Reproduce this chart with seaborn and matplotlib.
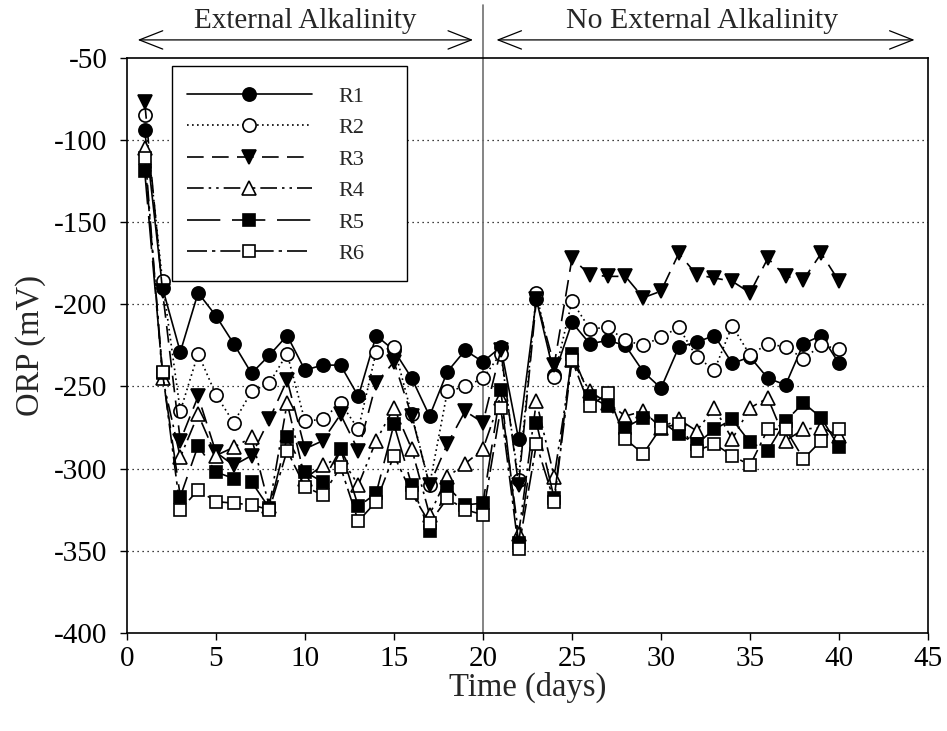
import matplotlib
matplotlib.use("Agg")
import matplotlib.pyplot as plt
from matplotlib.patches import Rectangle
import seaborn as sns
import numpy as np
import pandas as pd

days = list(range(1, 41))
R1 = [-94, -190, -229, -193, -207, -224, -242, -231, -219, -240,
      -237, -237, -256, -219, -228, -245, -268, -241, -228, -235,
      -226, -282, -197, -243, -211, -224, -222, -225, -241, -251,
      -226, -223, -219, -236, -232, -245, -249, -224, -219, -236]
R2 = [-85, -186, -265, -230, -255, -272, -253, -248, -230, -271,
      -270, -260, -276, -229, -226, -267, -310, -253, -250, -245,
      -230, -307, -193, -244, -198, -215, -214, -222, -225, -220,
      -214, -232, -240, -213, -231, -224, -226, -233, -225, -227]
R3 = [-77, -192, -283, -256, -290, -298, -292, -270, -246, -288,
      -283, -267, -289, -248, -235, -268, -310, -285, -265, -272,
      -228, -310, -197, -237, -172, -182, -183, -183, -196, -192,
      -169, -182, -184, -186, -193, -172, -183, -185, -169, -186]
R4 = [-105, -245, -293, -267, -292, -287, -281, -323, -260, -306,
      -298, -293, -310, -283, -263, -288, -328, -305, -297, -288,
      -257, -340, -259, -305, -234, -253, -260, -268, -265, -275,
      -270, -277, -263, -282, -263, -257, -283, -276, -275, -280]
R5 = [-119, -242, -317, -286, -302, -306, -308, -324, -281, -302,
      -308, -288, -323, -315, -273, -310, -338, -311, -322, -321,
      -252, -345, -272, -318, -230, -256, -262, -275, -269, -271,
      -279, -285, -276, -270, -284, -289, -271, -260, -269, -287]
R6 = [-111, -241, -325, -313, -320, -321, -322, -325, -289, -311,
      -316, -299, -332, -320, -292, -315, -333, -318, -325, -328,
      -263, -349, -285, -320, -234, -262, -254, -282, -291, -275,
      -273, -289, -285, -292, -298, -276, -276, -294, -283, -276]

series_names = ["R1", "R2", "R3", "R4", "R5", "R6"]
series_vals = [R1, R2, R3, R4, R5, R6]
x_ticks = [0, 5, 10, 15, 20, 25, 30, 35, 40, 45]
y_ticks = [-400, -350, -300, -250, -200, -150, -100, -50]
phase_labels = ["External Alkalinity", "No External Alkalinity"]

sns.set_theme(style="white")
plt.rcParams["font.family"] = ["Liberation Serif", "DejaVu Serif"]
plt.rcParams["axes.unicode_minus"] = False

styles = {
    "R1": dict(marker="o", mfc="black", ls="-", ms=9.5),
    "R2": dict(marker="o", mfc="white", ls=(0, (1, 2)), ms=9.5),
    "R3": dict(marker="v", mfc="black", ls=(0, (10, 5)), ms=10.5),
    "R4": dict(marker="^", mfc="white", ls=(0, (10, 3, 1.5, 3, 1.5, 3)), ms=10),
    "R5": dict(marker="s", mfc="black", ls=(0, (20, 7)), ms=9),
    "R6": dict(marker="s", mfc="white", ls=(0, (12, 3, 2, 3)), ms=9),
}

df = pd.DataFrame({"day": days, **{n: v for n, v in zip(series_names, series_vals)}})

fig = plt.figure(figsize=(9.47, 7.31), dpi=100)
ax = fig.add_axes([0.134, 0.134, 0.846, 0.787])

for n in series_names:
    s = styles[n]
    sns.lineplot(data=df, x="day", y=n, ax=ax, color="black", linewidth=1.2,
                 linestyle=s["ls"], marker=s["marker"], markersize=s["ms"],
                 markerfacecolor=s["mfc"], markeredgecolor="black",
                 markeredgewidth=1.2, label=n)

ax.set_xlim(0, 45)
ax.set_ylim(-400, -50)
ax.set_xticks(x_ticks)
ax.set_yticks(y_ticks)
ax.tick_params(axis="both", labelsize=21, direction="out", length=5, width=1,
               colors="black", bottom=True, left=True)
ax.tick_params(axis="x", pad=4)
ax.tick_params(axis="y", pad=9)
for sp in ax.spines.values():
    sp.set_color("black")
    sp.set_linewidth(1.2)
ax.set_xlabel("Time (days)", fontsize=23.5, labelpad=0)
ax.set_ylabel("ORP (mV)", fontsize=23.5, labelpad=6)

for yv in y_ticks[1:-1]:
    ax.axhline(yv, color="black", linestyle=(0, (1, 3)), linewidth=0.9, zorder=0)

ax.axvline(20, ymin=0, ymax=1.092, color="#707070", linewidth=1.2, clip_on=False, zorder=1)

arrowprops = dict(arrowstyle="<->,head_length=1.4,head_width=0.55", color="black", lw=0.9)
ax.annotate("", xy=(0.45, 1.031), xycoords=("data", "axes fraction"),
            xytext=(19.6, 1.031), textcoords=("data", "axes fraction"),
            arrowprops=arrowprops, annotation_clip=False)
ax.annotate("", xy=(20.6, 1.031), xycoords=("data", "axes fraction"),
            xytext=(44.4, 1.031), textcoords=("data", "axes fraction"),
            arrowprops=arrowprops, annotation_clip=False)
ax.text(10, 1.064, phase_labels[0], transform=ax.get_xaxis_transform(),
        ha="center", va="center", fontsize=21)
ax.text(32.3, 1.064, phase_labels[1], transform=ax.get_xaxis_transform(),
        ha="center", va="center", fontsize=21.5)

ax.add_patch(Rectangle((0.0562, 0.612), 0.2934, 0.374, transform=ax.transAxes,
                       facecolor="white", edgecolor="black", linewidth=1.0, zorder=4))
leg = ax.legend(loc="upper left", bbox_to_anchor=(0.067, 0.962), fontsize=16,
                handlelength=5.6, handletextpad=1.2, labelspacing=0.49,
                borderpad=0.3, frameon=False, numpoints=1,
                markerfirst=True, borderaxespad=0)
leg.set_zorder(5)

fig.savefig("out.png", dpi=100)
